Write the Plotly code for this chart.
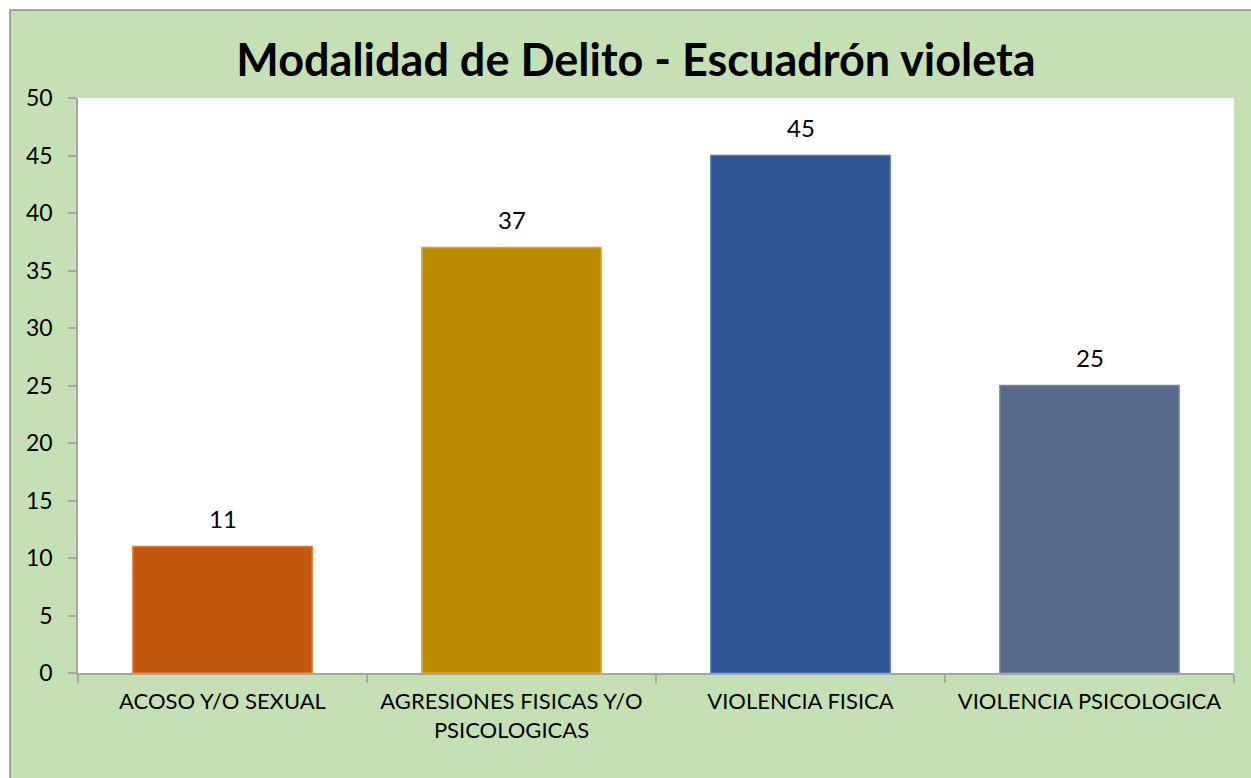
import plotly.graph_objects as go

categories = ["ACOSO Y/O SEXUAL", "AGRESIONES FISICAS Y/O<br>PSICOLOGICAS", "VIOLENCIA FISICA", "VIOLENCIA PSICOLOGICA"]
values = [11, 37, 45, 25]
colors = ["#C4570F", "#BB8C02", "#2E5494", "#56698A"]
edge_colors = ["#E07A2C", "#D9A822", "#4A72B8", "#7487A5"]
title_text = "Modalidad de Delito - Escuadrón violeta"

W, H = 1251, 778
ml, mt = 78, 98
mr = W - 1234
mb = H - 673
pw, ph = W - ml - mr, H - mt - mb

def px_x(x):
    return (x - ml) / pw

def px_y(y):
    return (H - mb - y) / ph

green = "#C5E0B4"
font_family = "Lato, 'Open Sans', sans-serif"

fig = go.Figure()
fig.add_trace(go.Bar(
    x=categories, y=values,
    marker=dict(color=colors, line=dict(color=edge_colors, width=1.5)),
    width=0.62,
    hoverinfo="skip",
))

annotations = []
for c, v in zip(categories, values):
    annotations.append(dict(x=c, y=v, text=str(v), showarrow=False, yshift=28,
                            font=dict(size=24, color="#000000", family=font_family)))

shapes = [
    dict(type="rect", xref="paper", yref="paper", x0=px_x(-2), x1=px_x(1260), y0=px_y(10), y1=px_y(-2),
         fillcolor="white", line=dict(width=0), layer="above"),
    dict(type="rect", xref="paper", yref="paper", x0=px_x(-2), x1=px_x(10), y0=px_y(790), y1=px_y(-2),
         fillcolor="white", line=dict(width=0), layer="above"),
    dict(type="rect", xref="paper", yref="paper", x0=px_x(10), x1=px_x(1270), y0=px_y(800), y1=px_y(10),
         fillcolor="rgba(0,0,0,0)", line=dict(color="#8C8C8C", width=1.5), layer="above"),
]

fig.update_layout(
    width=W, height=H,
    margin=dict(l=ml, r=mr, t=mt, b=mb, autoexpand=False),
    paper_bgcolor=green,
    plot_bgcolor="white",
    showlegend=False,
    bargap=0.38,
    title=dict(text=f"<b>{title_text}</b>", x=636 / W, xanchor="center", xref="container",
               y=1 - 60 / H, yanchor="middle", yref="container",
               font=dict(size=45, color="#000000", family=font_family)),
    xaxis=dict(showline=True, linecolor="#A6A6A6", linewidth=1.5, ticks="outside", tickson="boundaries",
               ticklen=8, tickcolor="#A6A6A6", tickwidth=1.5, showgrid=False,
               tickfont=dict(size=22, color="#000000", family=font_family), ticklabelstandoff=8),
    yaxis=dict(range=[0, 50], dtick=5, showline=True, linecolor="#A6A6A6", linewidth=1.5, ticks="outside",
               ticklen=8, tickcolor="#A6A6A6", tickwidth=1.5, showgrid=False, zeroline=False,
               tickfont=dict(size=23, color="#000000", family=font_family), ticklabelstandoff=11),
    annotations=annotations,
    shapes=shapes,
)

fig.write_html("out.html",
               config={"displayModeBar": False},
               post_script="document.body.style.margin='0';document.body.style.overflow='hidden';")
